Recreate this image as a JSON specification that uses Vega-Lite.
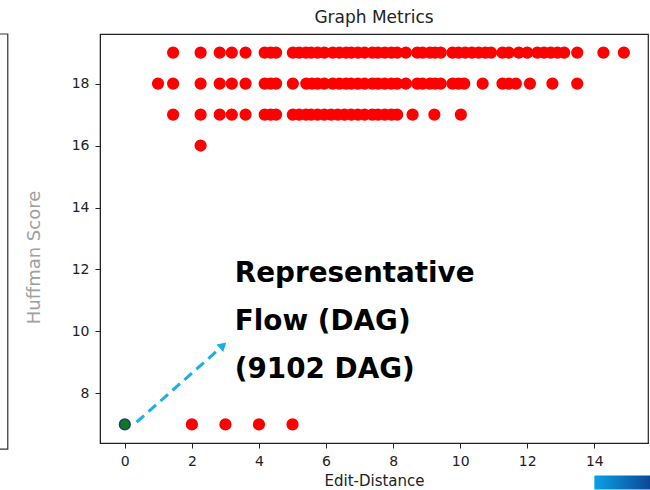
{
  "$schema": "https://vega.github.io/schema/vega-lite/v6.json",
  "width": 548,
  "height": 409,
  "autosize": "none",
  "padding": {"left": 100, "top": 34, "right": 2, "bottom": 47},
  "background": "white",
  "config": {
    "view": {"stroke": "#222222", "strokeWidth": 1.2},
    "font": "DejaVu Sans",
    "axis": {"grid": false, "domainColor": "#222222", "tickColor": "#222222", "tickSize": 5, "labelFont": "DejaVu Sans", "labelFontSize": 14, "labelColor": "#222222", "titleFont": "DejaVu Sans", "titleFontWeight": "normal"}
  },
  "title": {"text": "Graph Metrics", "font": "DejaVu Sans", "fontSize": 17, "fontWeight": "normal", "color": "#222222", "offset": 6, "anchor": "middle"},
  "datasets": {
    "pts": [
      {"ed": 1.44, "hs": 19, "kind": "other"}, {"ed": 2.26, "hs": 19, "kind": "other"}, {"ed": 2.83, "hs": 19, "kind": "other"}, {"ed": 3.19, "hs": 19, "kind": "other"}, {"ed": 3.6, "hs": 19, "kind": "other"},
      {"ed": 4.17, "hs": 19, "kind": "other"}, {"ed": 4.35, "hs": 19, "kind": "other"}, {"ed": 4.51, "hs": 19, "kind": "other"}, {"ed": 5.01, "hs": 19, "kind": "other"}, {"ed": 5.2, "hs": 19, "kind": "other"},
      {"ed": 5.4, "hs": 19, "kind": "other"}, {"ed": 5.55, "hs": 19, "kind": "other"}, {"ed": 5.75, "hs": 19, "kind": "other"}, {"ed": 5.95, "hs": 19, "kind": "other"}, {"ed": 6.2, "hs": 19, "kind": "other"},
      {"ed": 6.4, "hs": 19, "kind": "other"}, {"ed": 6.6, "hs": 19, "kind": "other"}, {"ed": 6.75, "hs": 19, "kind": "other"}, {"ed": 6.95, "hs": 19, "kind": "other"}, {"ed": 7.15, "hs": 19, "kind": "other"},
      {"ed": 7.38, "hs": 19, "kind": "other"}, {"ed": 7.55, "hs": 19, "kind": "other"}, {"ed": 7.75, "hs": 19, "kind": "other"}, {"ed": 7.95, "hs": 19, "kind": "other"}, {"ed": 8.12, "hs": 19, "kind": "other"},
      {"ed": 8.38, "hs": 19, "kind": "other"}, {"ed": 8.72, "hs": 19, "kind": "other"}, {"ed": 8.88, "hs": 19, "kind": "other"}, {"ed": 9.1, "hs": 19, "kind": "other"}, {"ed": 9.25, "hs": 19, "kind": "other"},
      {"ed": 9.42, "hs": 19, "kind": "other"}, {"ed": 9.77, "hs": 19, "kind": "other"}, {"ed": 9.95, "hs": 19, "kind": "other"}, {"ed": 10.15, "hs": 19, "kind": "other"}, {"ed": 10.35, "hs": 19, "kind": "other"},
      {"ed": 10.55, "hs": 19, "kind": "other"}, {"ed": 10.75, "hs": 19, "kind": "other"}, {"ed": 10.92, "hs": 19, "kind": "other"}, {"ed": 11.26, "hs": 19, "kind": "other"}, {"ed": 11.45, "hs": 19, "kind": "other"},
      {"ed": 11.75, "hs": 19, "kind": "other"}, {"ed": 12.0, "hs": 19, "kind": "other"}, {"ed": 12.3, "hs": 19, "kind": "other"}, {"ed": 12.5, "hs": 19, "kind": "other"}, {"ed": 12.7, "hs": 19, "kind": "other"},
      {"ed": 12.9, "hs": 19, "kind": "other"}, {"ed": 13.1, "hs": 19, "kind": "other"}, {"ed": 13.49, "hs": 19, "kind": "other"}, {"ed": 14.27, "hs": 19, "kind": "other"}, {"ed": 14.88, "hs": 19, "kind": "other"},
      {"ed": 0.99, "hs": 18, "kind": "other"}, {"ed": 1.44, "hs": 18, "kind": "other"}, {"ed": 2.26, "hs": 18, "kind": "other"}, {"ed": 2.83, "hs": 18, "kind": "other"}, {"ed": 3.19, "hs": 18, "kind": "other"},
      {"ed": 3.6, "hs": 18, "kind": "other"}, {"ed": 4.17, "hs": 18, "kind": "other"}, {"ed": 4.35, "hs": 18, "kind": "other"}, {"ed": 4.51, "hs": 18, "kind": "other"}, {"ed": 5.01, "hs": 18, "kind": "other"},
      {"ed": 5.41, "hs": 18, "kind": "other"}, {"ed": 5.58, "hs": 18, "kind": "other"}, {"ed": 5.75, "hs": 18, "kind": "other"}, {"ed": 5.95, "hs": 18, "kind": "other"}, {"ed": 6.2, "hs": 18, "kind": "other"},
      {"ed": 6.4, "hs": 18, "kind": "other"}, {"ed": 6.6, "hs": 18, "kind": "other"}, {"ed": 6.75, "hs": 18, "kind": "other"}, {"ed": 6.95, "hs": 18, "kind": "other"}, {"ed": 7.15, "hs": 18, "kind": "other"},
      {"ed": 7.38, "hs": 18, "kind": "other"}, {"ed": 7.55, "hs": 18, "kind": "other"}, {"ed": 7.75, "hs": 18, "kind": "other"}, {"ed": 7.95, "hs": 18, "kind": "other"}, {"ed": 8.12, "hs": 18, "kind": "other"},
      {"ed": 8.38, "hs": 18, "kind": "other"}, {"ed": 8.72, "hs": 18, "kind": "other"}, {"ed": 8.88, "hs": 18, "kind": "other"}, {"ed": 9.1, "hs": 18, "kind": "other"}, {"ed": 9.25, "hs": 18, "kind": "other"},
      {"ed": 9.42, "hs": 18, "kind": "other"}, {"ed": 9.77, "hs": 18, "kind": "other"}, {"ed": 9.95, "hs": 18, "kind": "other"}, {"ed": 10.12, "hs": 18, "kind": "other"}, {"ed": 10.67, "hs": 18, "kind": "other"},
      {"ed": 11.26, "hs": 18, "kind": "other"}, {"ed": 11.45, "hs": 18, "kind": "other"}, {"ed": 11.66, "hs": 18, "kind": "other"}, {"ed": 12.08, "hs": 18, "kind": "other"}, {"ed": 12.75, "hs": 18, "kind": "other"},
      {"ed": 13.49, "hs": 18, "kind": "other"},
      {"ed": 1.44, "hs": 17, "kind": "other"}, {"ed": 2.26, "hs": 17, "kind": "other"}, {"ed": 2.83, "hs": 17, "kind": "other"}, {"ed": 3.19, "hs": 17, "kind": "other"}, {"ed": 3.6, "hs": 17, "kind": "other"},
      {"ed": 4.17, "hs": 17, "kind": "other"}, {"ed": 4.35, "hs": 17, "kind": "other"}, {"ed": 4.51, "hs": 17, "kind": "other"}, {"ed": 5.01, "hs": 17, "kind": "other"}, {"ed": 5.2, "hs": 17, "kind": "other"},
      {"ed": 5.4, "hs": 17, "kind": "other"}, {"ed": 5.55, "hs": 17, "kind": "other"}, {"ed": 5.75, "hs": 17, "kind": "other"}, {"ed": 5.95, "hs": 17, "kind": "other"}, {"ed": 6.15, "hs": 17, "kind": "other"},
      {"ed": 6.35, "hs": 17, "kind": "other"}, {"ed": 6.55, "hs": 17, "kind": "other"}, {"ed": 6.75, "hs": 17, "kind": "other"}, {"ed": 6.95, "hs": 17, "kind": "other"}, {"ed": 7.15, "hs": 17, "kind": "other"},
      {"ed": 7.38, "hs": 17, "kind": "other"}, {"ed": 7.55, "hs": 17, "kind": "other"}, {"ed": 7.75, "hs": 17, "kind": "other"}, {"ed": 7.95, "hs": 17, "kind": "other"}, {"ed": 8.12, "hs": 17, "kind": "other"},
      {"ed": 8.58, "hs": 17, "kind": "other"}, {"ed": 9.23, "hs": 17, "kind": "other"}, {"ed": 10.02, "hs": 17, "kind": "other"},
      {"ed": 2.26, "hs": 16, "kind": "other"},
      {"ed": 2.0, "hs": 7, "kind": "other"}, {"ed": 3.0, "hs": 7, "kind": "other"}, {"ed": 4.0, "hs": 7, "kind": "other"}, {"ed": 5.0, "hs": 7, "kind": "other"},
      {"ed": 0.0, "hs": 7, "kind": "rep"}
    ],
    "arrow": [
      {"ed": 0.35, "hs": 7.07},
      {"ed": 2.88, "hs": 9.5}
    ],
    "head": [{"ed": 2.93, "hs": 9.55}],
    "label": [{"ed": 3.28, "hs": 11.58, "txt": ["Representative", "Flow (DAG)", "(9102 DAG)"]}],
    "frame": [{"x1": -4.2, "x2": -3.49, "y1": 6.2, "y2": 19.6}],
    "bar": [{"x1": 14.0, "x2": 15.9, "y1": 4.9, "y2": 5.35}]
  },
  "layer": [
    {
      "data": {"name": "frame"},
      "mark": {"type": "rect", "fill": null, "stroke": "#333333", "strokeWidth": 1.2, "clip": false},
      "encoding": {
        "x": {"field": "x1", "type": "quantitative", "scale": {"domain": [-0.74, 15.6], "nice": false, "zero": false}, "axis": {"values": [0, 2, 4, 6, 8, 10, 12, 14], "title": "Edit-Distance", "titleFontSize": 15, "titleColor": "#222222", "titlePadding": 5, "labelPadding": 6, "labelFlush": false}},
        "x2": {"field": "x2"},
        "y": {"field": "y1", "type": "quantitative", "scale": {"domain": [6.4, 19.6], "nice": false, "zero": false}, "axis": {"values": [8, 10, 12, 14, 16, 18], "title": "Huffman Score", "titleFontSize": 18, "titleColor": "#a0a0a0", "titlePadding": 28, "titleY": 223, "labelPadding": 6, "labelFlush": false}},
        "y2": {"field": "y2"}
      }
    },
    {
      "data": {"name": "bar"},
      "mark": {"type": "rect", "clip": false, "color": {"x1": 0, "y1": 0, "x2": 1, "y2": 0, "gradient": "linear", "stops": [{"offset": 0, "color": "#0aa0e6"}, {"offset": 1, "color": "#0b3c8c"}]}},
      "encoding": {
        "x": {"field": "x1", "type": "quantitative"},
        "x2": {"field": "x2"},
        "y": {"field": "y1", "type": "quantitative"},
        "y2": {"field": "y2"}
      }
    },
    {
      "data": {"name": "pts"},
      "mark": {"type": "point", "filled": true, "size": 115, "opacity": 1},
      "encoding": {
        "x": {"field": "ed", "type": "quantitative"},
        "y": {"field": "hs", "type": "quantitative"},
        "color": {"field": "kind", "type": "nominal", "scale": {"domain": ["other", "rep"], "range": ["#ff0000", "#0a7a1e"]}, "legend": null},
        "stroke": {"field": "kind", "type": "nominal", "scale": {"domain": ["other", "rep"], "range": ["#ff0000", "#1f3f7a"]}, "legend": null},
        "strokeWidth": {"value": 1.5}
      }
    },
    {
      "data": {"name": "arrow"},
      "mark": {"type": "line", "color": "#1aaee8", "strokeWidth": 3, "strokeDash": [10, 6]},
      "encoding": {
        "x": {"field": "ed", "type": "quantitative"},
        "y": {"field": "hs", "type": "quantitative"}
      }
    },
    {
      "data": {"name": "head"},
      "mark": {"type": "point", "shape": "triangle-up", "filled": true, "color": "#1aaee8", "size": 100, "angle": 48, "opacity": 1},
      "encoding": {
        "x": {"field": "ed", "type": "quantitative"},
        "y": {"field": "hs", "type": "quantitative"}
      }
    },
    {
      "data": {"name": "label"},
      "mark": {"type": "text", "align": "left", "baseline": "alphabetic", "font": "DejaVu Sans", "fontWeight": "bold", "fontSize": 27.8, "lineHeight": 48, "color": "#000000"},
      "encoding": {
        "x": {"field": "ed", "type": "quantitative"},
        "y": {"field": "hs", "type": "quantitative"},
        "text": {"field": "txt"}
      }
    }
  ]
}
